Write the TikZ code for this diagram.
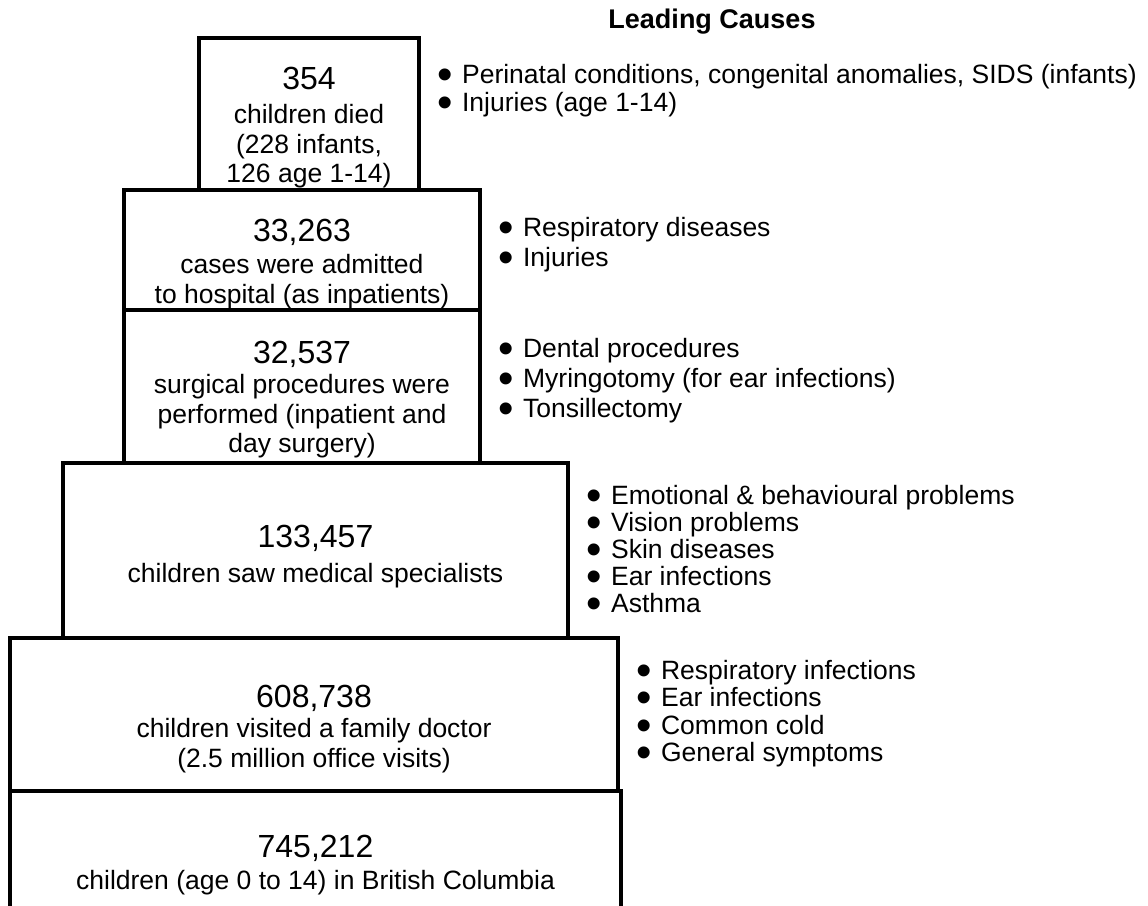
\documentclass[tikz,border=0pt]{standalone}
\usepackage{fontspec}
\setmainfont{Liberation Sans}
\newcommand\numsz{\fontsize{32}{34}\selectfont}
\newcommand\bul{\raisebox{-6pt}{\fontsize{44}{28}\selectfont\textbullet}\hspace{9.5pt}}
\begin{document}
\begin{tikzpicture}[x=1pt,y=-1pt,
  box/.style={draw=black,line width=4pt,inner sep=0pt,outer sep=0pt},
  lbl/.style={align=center,anchor=north,inner sep=0pt,font=\fontsize{26.5}{29.5}\selectfont},
  lst/.style={align=left,anchor=north west,inner sep=0pt,font=\fontsize{26.5}{#1}\selectfont},
  lst/.default=28,
  ttl/.style={inner sep=0pt,font=\bfseries\fontsize{27}{28}\selectfont}]
\useasboundingbox[fill=white] (0,0) rectangle (1148,905);
% boxes
\node[box,minimum width=220pt,minimum height=152pt] (b1) at (309,114) {};
\node[box,minimum width=356pt,minimum height=120pt] (b2) at (302,250) {};
\node[box,minimum width=356pt,minimum height=153pt] (b3) at (302,386.5) {};
\node[box,minimum width=505pt,minimum height=175pt] (b4) at (315.5,550.5) {};
\node[box,minimum width=608pt,minimum height=153pt] (b5) at (314,714.5) {};
\node[box,minimum width=611pt,minimum height=134pt] (b6) at (315.5,858) {};
% box texts
\node[lbl] (t1) at (309,66.5) {{\numsz 354}\\[5pt]children died\\(228 infants,\\126 age 1-14)};
\node[lbl] (t2) at (302,218.5) {{\numsz 33,263}\\[3pt]cases were admitted\\to hospital (as inpatients)};
\node[lbl] (t3) at (302,340.5) {{\numsz 32,537}\\[1pt]surgical procedures were\\performed (inpatient and\\day surgery)};
\node[lbl] (t4) at (315.5,524.5) {{\numsz 133,457}\\[6pt]children saw medical specialists};
\node[lbl] (t5) at (314,684.5) {{\numsz 608,738}\\[1pt]children visited a family doctor\\(2.5 million office visits)};
\node[lbl] (t6) at (315.5,834.5) {{\numsz 745,212}\\[3pt]children (age 0 to 14) in British Columbia};
% title
\node[ttl] (title) at (712,22) {Leading Causes};
% cause lists
\node[lst] (c1) at (437,64.5) {\bul Perinatal conditions, congenital anomalies, SIDS (infants)\\\bul Injuries (age 1-14)};
\node[lst=30] (c2) at (498,217) {\bul Respiratory diseases\\\bul Injuries};
\node[lst=30] (c3) at (498,338) {\bul Dental procedures\\\bul Myringotomy (for ear infections)\\\bul Tonsillectomy};
\node[lst=27] (c4) at (586,485) {\bul Emotional \& behavioural problems\\\bul Vision problems\\\bul Skin diseases\\\bul Ear infections\\\bul Asthma};
\node[lst=27.5] (c5) at (636,660) {\bul Respiratory infections\\\bul Ear infections\\\bul Common cold\\\bul General symptoms};
\end{tikzpicture}
\end{document}
